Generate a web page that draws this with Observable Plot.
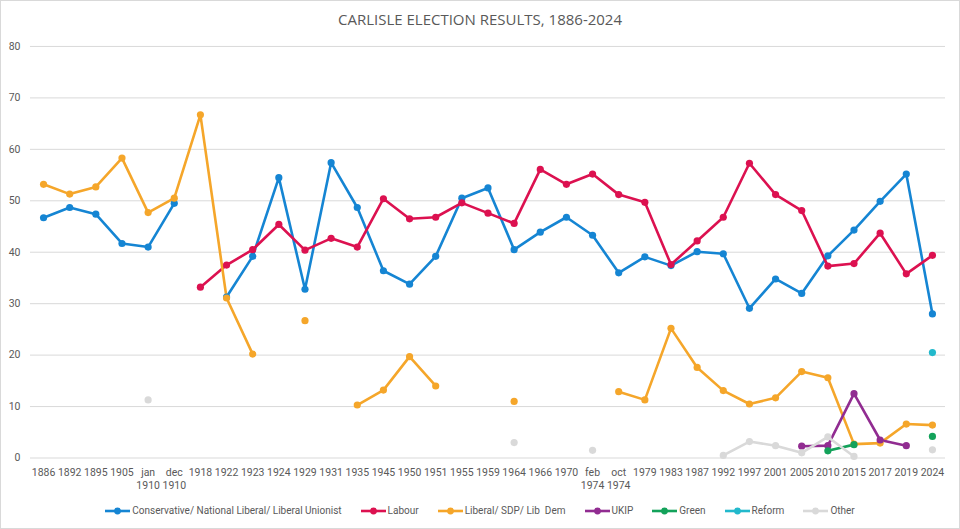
<!DOCTYPE html>
<html><head><meta charset="utf-8">
<script src="https://cdn.jsdelivr.net/npm/d3@7"></script>
<script src="https://cdn.jsdelivr.net/npm/@observablehq/plot@0.6"></script>
<style>
body{margin:0;background:#fff;font-family:"Open Sans","Liberation Sans",sans-serif;}
#wrap{position:relative;width:958px;height:527px;overflow:hidden;border:1px solid #d9d9d9;}
#chart{position:absolute;left:-1px;top:-1px;}
#title{position:absolute;top:8px;left:0;width:958px;text-align:center;font-size:15px;color:#595959;}
#legend{position:absolute;top:504px;left:0;width:958px;display:flex;justify-content:center;gap:19px;font-family:Roboto,sans-serif;font-size:10px;color:#595959;align-items:center;}
.item{display:flex;align-items:center;gap:2px;white-space:pre;}
</style>
</head><body>
<div id="wrap"><div id="chart"></div><div id="title">CARLISLE ELECTION RESULTS, 1886-2024</div><div id="legend"></div></div>
<script>
const categories = ["1886","1892","1895","1905","jan 1910","dec 1910","1918","1922","1923","1924","1929","1931","1935","1945","1950","1951","1955","1959","1964","1966","1970","feb 1974","oct 1974","1979","1983","1987","1992","1997","2001","2005","2010","2015","2017","2019","2024"];
const conservative = [46.7,48.7,47.4,41.7,41.0,49.5,null,31.3,39.2,54.5,32.8,57.4,48.7,36.4,33.8,39.2,50.5,52.5,40.5,43.9,46.8,43.3,36.0,39.1,37.4,40.1,39.7,29.1,34.8,32.0,39.3,44.3,49.9,55.2,28.0];
const labour = [null,null,null,null,null,null,33.2,37.5,40.5,45.4,40.4,42.7,41.0,50.4,46.5,46.8,49.6,47.6,45.6,56.1,53.2,55.2,51.2,49.7,37.6,42.2,46.8,57.3,51.2,48.1,37.3,37.8,43.7,35.8,39.4];
const liberal = [53.2,51.3,52.7,58.3,47.7,50.5,66.7,31.1,20.2,null,26.7,null,10.3,13.2,19.7,14.0,null,null,11.0,null,null,null,12.9,11.3,25.2,17.6,13.1,10.5,11.7,16.8,15.6,2.7,2.9,6.6,6.4];
const ukip = [null,null,null,null,null,null,null,null,null,null,null,null,null,null,null,null,null,null,null,null,null,null,null,null,null,null,null,null,null,2.3,2.4,12.5,3.5,2.4,null];
const green = [null,null,null,null,null,null,null,null,null,null,null,null,null,null,null,null,null,null,null,null,null,null,null,null,null,null,null,null,null,null,1.4,2.6,null,null,4.2];
const reform = [null,null,null,null,null,null,null,null,null,null,null,null,null,null,null,null,null,null,null,null,null,null,null,null,null,null,null,null,null,null,null,null,null,null,20.5];
const other = [null,null,null,null,11.3,null,null,null,null,null,null,null,null,null,null,null,null,null,3.0,null,null,1.5,null,null,null,null,0.5,3.2,2.4,1.0,4.1,0.3,null,null,1.6];
const seriesNames = ["Conservative/ National Liberal/ Liberal Unionist","Labour","Liberal/ SDP/ Lib  Dem","UKIP","Green","Reform","Other"];
const seriesValues = [conservative, labour, liberal, ukip, green, reform, other];
const seriesColors = ["#1585d3","#dc1150","#f5a62a","#912c91","#13a25a","#22b9cc","#d9d9d9"];

const data = [];
seriesNames.forEach((name, s) => {
  categories.forEach((c, i) => data.push({cat: c, party: name, v: seriesValues[s][i]}));
});

const chart = Plot.plot({
  width: 960,
  height: 529,
  marginTop: 46,
  marginBottom: 71,
  marginLeft: 30,
  marginRight: 14,
  style: {fontFamily: "Roboto,'Open Sans',sans-serif", fontSize: "10.5px", color: "#595959", background: "white"},
  x: {type: "point", domain: categories, padding: 0.5, round: false, label: null},
  y: {domain: [0, 80], label: null},
  color: {domain: seriesNames, range: seriesColors},
  marks: [
    Plot.gridY(d3.range(0, 81, 10), {stroke: "#d9d9d9", strokeOpacity: 1, strokeWidth: 1}),
    Plot.axisY(d3.range(0, 81, 10), {tickSize: 0, tickPadding: 10, label: null, fontSize: 10.5}),
    Plot.axisX(categories, {tickSize: 0, tickPadding: 8, label: null, lineHeight: 1.3,
      tickFormat: d => d.replace(" ", "\n")}),
    Plot.lineY(data, {x: "cat", y: "v", z: "party", stroke: "party", strokeWidth: 2.6}),
    Plot.dot(data.filter(d => d.v != null), {x: "cat", y: "v", fill: "party", r: 3.6, stroke: null})
  ]
});
document.getElementById("chart").appendChild(chart);

const legend = document.getElementById("legend");
seriesNames.forEach((name, s) => {
  const it = document.createElement("div");
  it.className = "item";
  it.innerHTML = `<svg width="25" height="8"><line x1="0" x2="25" y1="4" y2="4" stroke="${seriesColors[s]}" stroke-width="2.6"/><circle cx="12.5" cy="4" r="3.4" fill="${seriesColors[s]}"/></svg><span>${name}</span>`;
  legend.appendChild(it);
});
</script>
</body></html>
